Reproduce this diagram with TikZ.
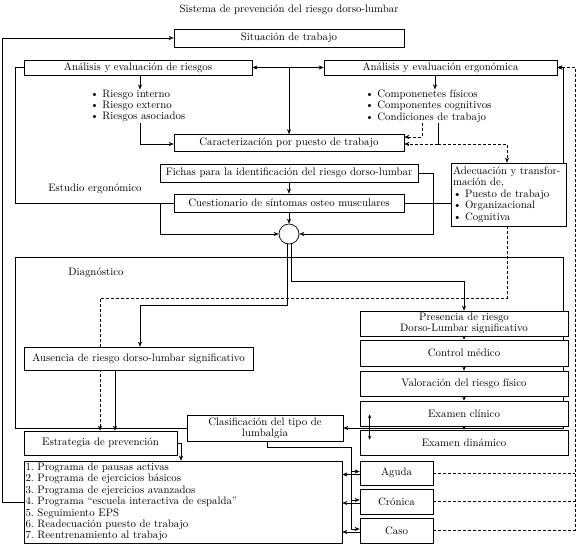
\documentclass[tikz,border=0pt]{standalone}
\usepackage{fontspec}
\usetikzlibrary{arrows.meta,backgrounds,calc}
\frenchspacing
\begin{document}
\begin{tikzpicture}[x=1pt,y=-1pt, line width=0.7pt,
 every node/.style={font=\fontsize{10.8}{11.4}\selectfont},
 box/.style={draw, fill=white, inner sep=1pt, align=center},
 arr/.style={-{Stealth[length=5pt,width=4pt]}},
 darr/.style={arr, dash pattern=on 3pt off 2pt},
 dsh/.style={dash pattern=on 3pt off 2pt},
 sarr/.style={-{Stealth[length=4pt,width=3.5pt]}},
 darrow/.style={{Stealth[length=4pt,width=3.5pt]}-{Stealth[length=4pt,width=3.5pt]}}
]
\useasboundingbox (0,0) rectangle (578,546);

% nodes
\node (title) at (289,10) {Sistema de prevención del riesgo dorso-lumbar};
\node[box, minimum width=230pt, minimum height=18pt] (sit) at (289,38) {Situación de trabajo};
\node[box, minimum width=228pt, minimum height=15pt] (ar) at (138,67.5) {Análisis y evaluación de riesgos};
\node[box, minimum width=233pt, minimum height=15pt] (ae) at (440.5,67.5) {Análisis y evaluación ergonómica};
\node[anchor=west, align=left, inner sep=0pt] (rl) at (90,106) {\textbullet\ Riesgo interno\\ \textbullet\ Riesgo externo\\ \textbullet\ Riesgos asociados};
\node[anchor=west, align=left, inner sep=0pt] (el) at (365,106) {\textbullet\ Componenetes físicos\\ \textbullet\ Componentes cognitivos\\ \textbullet\ Condiciones de trabajo};
\node[box, minimum width=230pt, minimum height=17pt] (car) at (289,143) {Caracterización por puesto de trabajo};
\node[box, minimum width=258pt, minimum height=18pt] (fic) at (289,173) {Fichas para la identificación del riesgo dorso-lumbar};
\node[box, minimum width=230pt, minimum height=18pt] (cue) at (289,203) {Cuestionario de síntomas osteo musculares};
\node[draw, fill=white, circle, minimum size=20pt, inner sep=0pt] (circ) at (289,234) {};
\node[box, align=left, text width=111pt, minimum height=63pt, inner sep=2pt] (ade) at (508.5,194.5) {Adecuación y transfor-\\mación de,\\ \textbullet\ Puesto de trabajo\\ \textbullet\ Organizacional\\ \textbullet\ Cognitiva};
\node (estl) at (95,189) {Estudio ergonómico};
\node (diagl) at (96,273) {Diagnóstico};
\node[box, minimum width=229pt, minimum height=23pt] (aus) at (138.5,358.5) {Ausencia de riesgo dorso-lumbar significativo};
\node[box, minimum width=208pt, minimum height=25pt] (pres) at (464,323.5) {Presencia de riesgo\\Dorso-Lumbar significativo};
\node[box, minimum width=208pt, minimum height=26pt] (ctrl) at (464,353) {Control médico};
\node[box, minimum width=208pt, minimum height=25pt] (val) at (464,383.5) {Valoración del riesgo físico};
\node[box, minimum width=208pt, minimum height=25pt] (ecl) at (464,413.5) {Examen clínico};
\node[box, minimum width=208pt, minimum height=25pt] (edin) at (464,442.5) {Examen dinámico};
\node[box, minimum width=156pt, minimum height=26pt] (clas) at (265,428) {Clasificación del tipo de\\lumbalgia};
\node[box, minimum width=153pt, minimum height=24pt] (est) at (100.5,443) {Estrategia de prevención};
\node[box, align=left, text width=315pt, minimum height=82pt, inner sep=1.5pt] (list) at (183,502) {1. Programa de pausas activas\\2. Programa de ejercicios básicos\\3. Programa de ejercicios avanzados\\4. Programa “escuela interactiva de espalda”\\5. Seguimiento EPS\\6. Readecuación puesto de trabajo\\7. Reentrenamiento al trabajo};
\node[box, minimum width=73pt, minimum height=24pt] (agu) at (396.5,473) {Aguda};
\node[box, minimum width=73pt, minimum height=25pt] (cro) at (396.5,501.5) {Crónica};
\node[box, minimum width=73pt, minimum height=25pt] (caso) at (396.5,530.5) {Caso};

% connectors
\begin{scope}[on background layer]
\draw[arr] (list.west) -- (2,502) -- (2,38) -- (sit.west);
\coordinate (j1) at (car.north |- ar.east);
\draw[arr] (j1) -- (ar.east);
\draw[arr] (j1) -- (ae.west);
\draw[arr] (j1) -- (car.north);
\draw[arr] (ar.south -| 140,0) -- (rl.north -| 140,0);
\draw[arr] (rl.south -| 140,0) -- (140,144) -- (car.west |- 0,144);
\draw[arr] (ae.south -| 435,0) -- (el.north -| 435,0);
\draw[darr] (el.south -| 422,0) -- (422,137) -- (car.east |- 0,137);
\draw (el.south -| 438,0) -- (438,144);
\draw[darr] (438,144) -- (car.east |- 0,144);
\draw[darr] (438,144) -- (507,144) -- (ade.north -| 507,0);
\draw[arr] (fic.south) -- (cue.north);
\draw[arr] (cue.south) -- (circ.north);
\draw[arr] (fic.east) -- (433,173) -- (433,234) -- (circ.east);
\draw[arr] (cue.west) -- (160,203) -- (160,234) -- (circ.west);
\draw (cue.west) -- (15,203) -- (15,67.5) -- (ar.west);
\draw (cue.east) -- (ade.west |- cue.east);
\draw[arr] (ade.north -| 563,0) -- (563,67.5) -- (ae.east);
\draw[darr] (caso.east) -- (575,530.5) -- (575,67.5) -- (ae.east);
\draw[dsh] (agu.east) -- (575,473);
\draw[dsh] (cro.east) -- (575,501.5);
\draw[darr] (ade.south -| 507,0) -- (507,298) -- (100,298) -- (est.north -| 100,0);
\draw[arr] (circ.-80) -- (circ.-80 |- 0,281) -- (pres.north |- 0,281) -- (pres.north);
\draw[arr] (circ.-100) -- (circ.-100 |- 0,305) -- (140,305) -- (aus.north -| 140,0);
\draw[arr] (aus.south -| 115,0) -- (est.north -| 115,0);
\draw[arr] (clas.west) -- (15,428) -- (15,257) -- (563,257) -- (563,428) -- (clas.east);
\draw (clas.south -| 267,0) -- (267,447) -- (351,447) -- (351,529);
\draw[arr] (351,471.5) -- (agu.west |- 0,471.5);
\draw[arr] (agu.west |- 0,474.5) -- (list.east |- 0,474.5);
\draw[arr] (351,500) -- (cro.west |- 0,500);
\draw[arr] (cro.west |- 0,503) -- (list.east |- 0,503);
\draw[arr] (351,529) -- (caso.west |- 0,529);
\draw[arr] (caso.west |- 0,532) -- (list.east |- 0,532);
\draw[arr] (est.east) -- (181,443) -- (list.north -| 181,0);
\end{scope}

\draw[sarr] (pres.south) -- (ctrl.north);
\draw[sarr] (ctrl.south) -- (val.north);
\draw[sarr] (val.south) -- (ecl.north);
\draw[sarr] (ecl.south) -- (edin.north);
\draw[darrow] ($(ecl.south west)+(10,-12)$) -- ($(edin.north west)+(10,10)$);
\end{tikzpicture}
\end{document}
